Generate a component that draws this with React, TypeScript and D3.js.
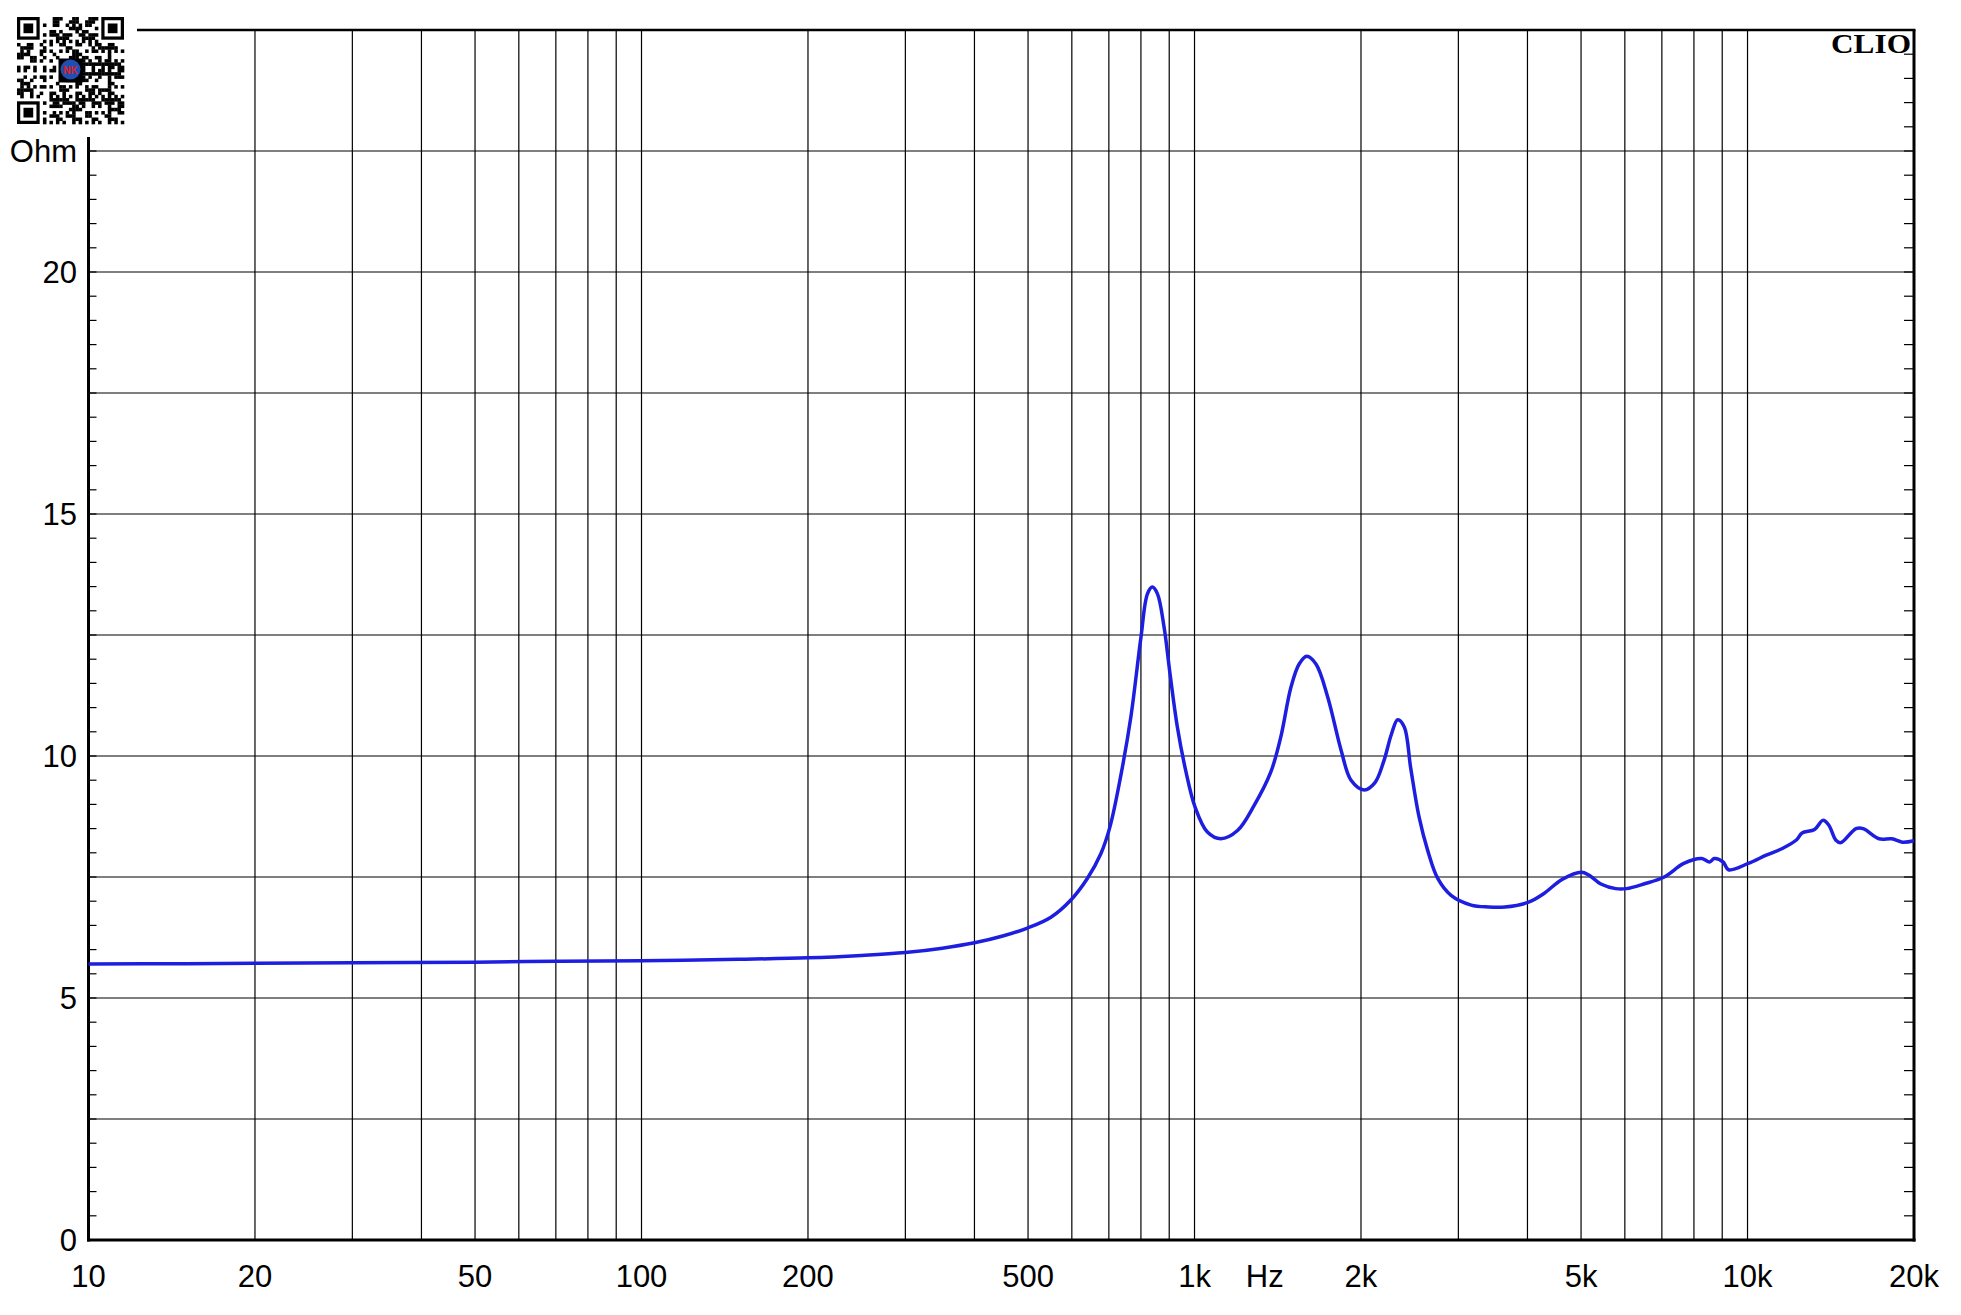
import React from "react";
import * as d3 from "d3";

const freqs = [10, 15, 20, 30, 50, 70, 100, 150, 200, 250, 300, 350, 400, 450, 500, 550, 597, 640, 677, 703, 735, 767, 800, 822, 839, 857, 881, 903, 931, 964, 1002, 1055, 1116, 1196, 1282, 1374, 1432, 1494, 1546, 1596, 1658, 1741, 1841, 1919, 2028, 2120, 2200, 2270, 2330, 2395, 2460, 2547, 2640, 2753, 2910, 3164, 3400, 3641, 4018, 4285, 4619, 5013, 5164, 5443, 5776, 6040, 6510, 7070, 7669, 8264, 8538, 8703, 9034, 9240, 10030, 10810, 11560, 12270, 12550, 13220, 13690, 14030, 14450, 14750, 15710, 16180, 17290, 18230, 19060, 20000];
const ohms = [5.70, 5.71, 5.72, 5.73, 5.74, 5.76, 5.77, 5.80, 5.83, 5.88, 5.94, 6.03, 6.14, 6.28, 6.45, 6.67, 7.02, 7.47, 7.98, 8.53, 9.57, 10.80, 12.45, 13.35, 13.49, 13.35, 12.66, 11.70, 10.60, 9.70, 8.95, 8.43, 8.29, 8.46, 8.98, 9.67, 10.39, 11.42, 11.90, 12.06, 11.90, 11.22, 10.12, 9.50, 9.30, 9.45, 9.90, 10.45, 10.75, 10.60, 9.75, 8.74, 8.05, 7.47, 7.12, 6.92, 6.88, 6.88, 6.98, 7.16, 7.45, 7.60, 7.54, 7.35, 7.26, 7.26, 7.36, 7.50, 7.78, 7.88, 7.81, 7.88, 7.81, 7.65, 7.78, 7.95, 8.09, 8.27, 8.41, 8.48, 8.67, 8.57, 8.26, 8.21, 8.50, 8.50, 8.29, 8.29, 8.22, 8.25];

const xGridFreqs = [20, 30, 40, 50, 60, 70, 80, 90, 100, 200, 300, 400, 500, 600, 700, 800, 900, 1000, 2000, 3000, 4000, 5000, 6000, 7000, 8000, 9000, 10000];
const xTickValues = [10, 20, 50, 100, 200, 500, 1000, 2000, 5000, 10000, 20000];
const xTickLabels = ["10", "20", "50", "100", "200", "500", "1k", "2k", "5k", "10k", "20k"];
const yGridValues = [2.5, 5, 7.5, 10, 12.5, 15, 17.5, 20, 22.5];
const yTickValues = [0, 5, 10, 15, 20];
const yTickLabels = ["0", "5", "10", "15", "20"];

const W = 1961;
const H = 1315;
const L = 88.5;
const R = 1914;
const T = 30;
const B = 1240;

function QR({ x0, y0, size }: { x0: number; y0: number; size: number }) {
  const n = 33;
  const m = size / n;
  const cells: JSX.Element[] = [];
  const inFinder = (i: number, j: number) =>
    (i < 8 && j < 8) || (i >= n - 8 && j < 8) || (i < 8 && j >= n - 8);
  for (let i = 0; i < n; i++) {
    for (let j = 0; j < n; j++) {
      if (inFinder(i, j)) continue;
      const h = (i * 73 + j * 151 + i * j * 29 + ((i ^ j) * 17)) % 11;
      if (h < 5) {
        cells.push(<rect key={`c${i}-${j}`} x={x0 + i * m} y={y0 + j * m} width={m + 0.3} height={m + 0.3} fill="#000" />);
      }
    }
  }
  const finder = (fx: number, fy: number, k: string) => (
    <g key={k}>
      <rect x={x0 + fx * m} y={y0 + fy * m} width={7 * m} height={7 * m} fill="#000" />
      <rect x={x0 + (fx + 1) * m} y={y0 + (fy + 1) * m} width={5 * m} height={5 * m} fill="#fff" />
      <rect x={x0 + (fx + 2) * m} y={y0 + (fy + 2) * m} width={3 * m} height={3 * m} fill="#000" />
    </g>
  );
  return (
    <g>
      {cells}
      {finder(0, 0, "f1")}
      {finder(n - 7, 0, "f2")}
      {finder(0, n - 7, "f3")}
      <rect x={x0 + size / 2 - 12} y={y0 + size / 2 - 12} width={24} height={24} fill="#000" />
      <circle cx={x0 + size / 2} cy={y0 + size / 2 - 1} r={10} fill="#1f4fb0" />
      <text x={x0 + size / 2} y={y0 + size / 2 + 3} fontSize={10} fontWeight="bold" fill="#e02020" textAnchor="middle" fontFamily="Liberation Sans">NK</text>
    </g>
  );
}

export default function App() {
  const x = d3.scaleLog().domain([10, 20000]).range([L, R]);
  const y = d3.scaleLinear().domain([0, 25]).range([B, T]);
  const data = freqs.map((f, i) => [f, ohms[i]] as [number, number]);
  const line = d3
    .line<[number, number]>()
    .x((d) => x(d[0]))
    .y((d) => y(d[1]))
    .curve(d3.curveCatmullRom.alpha(0.5));

  const minor: number[] = [];
  for (let v = 0.5; v < 25; v += 0.5) minor.push(v);

  const font = "'Liberation Sans', Arial, sans-serif";
  const fs = 31;
  const leftTop = 137;

  return (
    <div style={{ position: "absolute", left: 0, top: 0 }}>
      <svg width={W} height={H} style={{ display: "block", background: "#fff" }}>
        <rect x={0} y={0} width={W} height={H} fill="#fff" />
        {yGridValues.map((v) => (
          <line key={`hg${v}`} x1={L} x2={R} y1={y(v)} y2={y(v)} stroke="#000" strokeWidth={1.2} />
        ))}
        {xGridFreqs.map((f) => (
          <line key={`vg${f}`} x1={x(f)} x2={x(f)} y1={T} y2={B} stroke="#000" strokeWidth={1.2} />
        ))}
        {minor.map((v) =>
          y(v) >= leftTop ? (
            <line key={`lt${v}`} x1={L} x2={L + 8} y1={y(v)} y2={y(v)} stroke="#000" strokeWidth={1.2} />
          ) : null
        )}
        {minor.map((v) => (
          <line key={`rt${v}`} x1={R - 10} x2={R} y1={y(v)} y2={y(v)} stroke="#000" strokeWidth={1.2} />
        ))}
        <line x1={137} x2={R + 1.5} y1={T} y2={T} stroke="#000" strokeWidth={2.5} />
        <line x1={R} x2={R} y1={T} y2={B + 1.5} stroke="#000" strokeWidth={3} />
        <line x1={L} x2={L} y1={leftTop} y2={B + 1.5} stroke="#000" strokeWidth={3} />
        <line x1={L - 1.5} x2={R + 1.5} y1={B} y2={B} stroke="#000" strokeWidth={3} />
        <path d={line(data) || ""} fill="none" stroke="#1e1ee0" strokeWidth={3.5} strokeLinejoin="round" />
        {yTickValues.map((v, i) => (
          <text key={`yl${v}`} x={77} y={y(v)} dy="0.36em" textAnchor="end" fontSize={fs} fontFamily={font} fill="#000">
            {yTickLabels[i]}
          </text>
        ))}
        <text x={77} y={y(22.5)} dy="0.36em" textAnchor="end" fontSize={fs} fontFamily={font} fill="#000">Ohm</text>
        {xTickValues.map((f, i) => (
          <text key={`xl${f}`} x={x(f)} y={1287} textAnchor="middle" fontSize={fs} fontFamily={font} fill="#000">
            {xTickLabels[i]}
          </text>
        ))}
        <text x={x(1340)} y={1287} textAnchor="middle" fontSize={fs} fontFamily={font} fill="#000">Hz</text>
        <text x={1911} y={53} textAnchor="end" fontSize={27} fontWeight="bold" fontFamily="'Liberation Serif', 'Times New Roman', serif" fill="#000" textLength={80} lengthAdjust="spacingAndGlyphs">CLIO</text>
        <QR x0={17} y0={17} size={107} />
      </svg>
    </div>
  );
}
